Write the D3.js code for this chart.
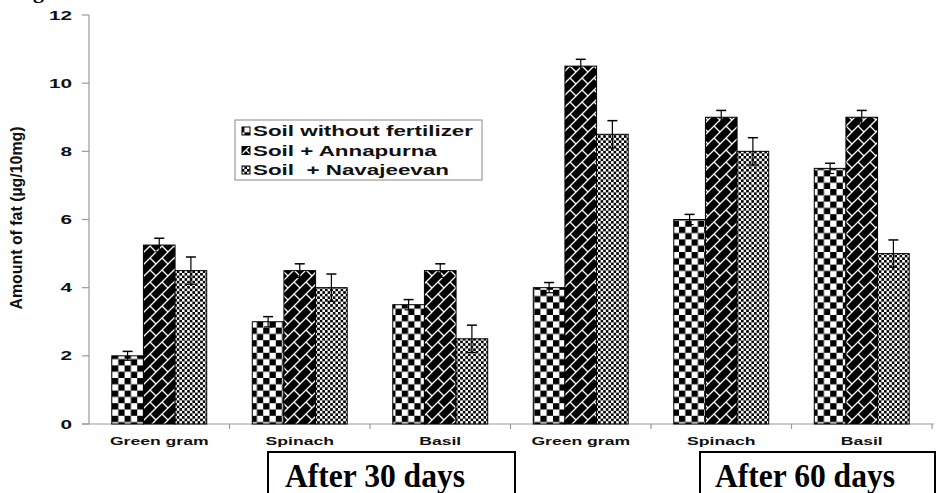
<!DOCTYPE html>
<html>
<head>
<meta charset="utf-8">
<script src="https://cdn.jsdelivr.net/npm/d3@7"></script>
<style>
  html, body { margin: 0; padding: 0; background: #fff; }
  svg { display: block; }
</style>
</head>
<body>
<svg id="chart" width="936" height="493"></svg>
<script>
// ---- data ----
const categories = ["Green gram", "Spinach", "Basil", "Green gram", "Spinach", "Basil"];
const seriesNames = ["Soil without fertilizer", "Soil + Annapurna", "Soil  + Navajeevan"];
const withoutFertilizer = [2, 3, 3.5, 4, 6, 7.5];
const annapurna = [5.25, 4.5, 4.5, 10.5, 9, 9];
const navajeevan = [4.5, 4, 2.5, 8.5, 8, 5];
const errWithout = [0.13, 0.15, 0.15, 0.15, 0.15, 0.15];
const errAnnapurna = [0.2, 0.2, 0.2, 0.2, 0.2, 0.2];
const errNavajeevan = [0.4, 0.4, 0.4, 0.4, 0.4, 0.4];
const yTicks = [0, 2, 4, 6, 8, 10, 12];
const periodLabels = ["After 30 days", "After 60 days"];
const yLabel = "Amount of fat (\u00b5g/10mg)";

const seriesValues = [withoutFertilizer, annapurna, navajeevan];
const seriesErrors = [errWithout, errAnnapurna, errNavajeevan];

const svg = d3.select("#chart");
const SX = 1.6; // horizontal stretch of the original picture's text
const ARIAL = "Arial, 'Liberation Sans', Helvetica, sans-serif";

// ---- patterns ----
const defs = svg.append("defs");
// big checker
const p1 = defs.append("pattern").attr("id", "pat0").attr("patternUnits", "userSpaceOnUse")
  .attr("width", 12.6).attr("height", 12.6).attr("x", 112).attr("y", 0);
p1.append("rect").attr("width", 12.6).attr("height", 12.6).attr("fill", "#fff");
p1.append("rect").attr("width", 6.3).attr("height", 6.3).attr("fill", "#000");
p1.append("rect").attr("x", 6.3).attr("y", 6.3).attr("width", 6.3).attr("height", 6.3).attr("fill", "#000");
// inverted diagonal brick
const p2 = defs.append("pattern").attr("id", "pat1").attr("patternUnits", "userSpaceOnUse")
  .attr("width", 12).attr("height", 12);
p2.append("rect").attr("width", 12).attr("height", 12).attr("fill", "#000");
p2.append("path").attr("d", "M0,12 L12,0 M6,6 L12,12 M-1,1 L1,-1 M11,13 L13,11")
  .attr("stroke", "#fff").attr("stroke-width", 1.3).attr("fill", "none");
// small checker
const p3 = defs.append("pattern").attr("id", "pat2").attr("patternUnits", "userSpaceOnUse")
  .attr("width", 5.2).attr("height", 5.2);
p3.append("rect").attr("width", 5.2).attr("height", 5.2).attr("fill", "#fff");
p3.append("rect").attr("width", 2.6).attr("height", 2.6).attr("fill", "#000");
p3.append("rect").attr("x", 2.6).attr("y", 2.6).attr("width", 2.6).attr("height", 2.6).attr("fill", "#000");

// ---- scales ----
const x = d3.scaleBand().domain(d3.range(categories.length)).range([89, 932]).paddingInner(0).paddingOuter(0);
const xs = d3.scaleBand().domain(d3.range(seriesNames.length)).range([0, x.bandwidth()]).paddingInner(0).paddingOuter(0.72);
const y = d3.scaleLinear().domain([0, 12]).range([424, 15]);

// ---- axes ----
const axisColor = "#999";
// y axis
const yAxis = svg.append("g");
yAxis.append("line").attr("x1", 89).attr("x2", 89).attr("y1", y(12)).attr("y2", y(0)).attr("stroke", axisColor).attr("stroke-width", 1.2);
yTicks.forEach(t => {
  yAxis.append("line").attr("x1", 82).attr("x2", 89).attr("y1", y(t)).attr("y2", y(t)).attr("stroke", axisColor).attr("stroke-width", 1.2);
  yAxis.append("text").attr("transform", `translate(72,${y(t) + 4.5}) scale(${SX},1)`)
    .attr("text-anchor", "end").attr("font-family", ARIAL).attr("font-weight", "bold").attr("font-size", 13)
    .attr("fill", "#111").text(t);
});
// x axis
const xAxis = svg.append("g");
xAxis.append("line").attr("x1", 82).attr("x2", 934).attr("y1", y(0)).attr("y2", y(0)).attr("stroke", axisColor).attr("stroke-width", 1.2);
d3.range(categories.length + 1).forEach(i => {
  const xp = i < categories.length ? x(i) : x(categories.length - 1) + x.bandwidth();
  if (i > 0) xAxis.append("line").attr("x1", xp).attr("x2", xp).attr("y1", y(0)).attr("y2", y(0) + 5).attr("stroke", axisColor).attr("stroke-width", 1.2);
});
categories.forEach((c, i) => {
  xAxis.append("text").attr("transform", `translate(${x(i) + x.bandwidth() / 2},${y(0) + 21}) scale(${SX},1)`)
    .attr("text-anchor", "middle").attr("font-family", ARIAL).attr("font-weight", "bold").attr("font-size", 11)
    .attr("fill", "#111").text(c);
});

// y label
svg.append("text").attr("transform", "translate(22,218) rotate(-90) scale(1,1.4)")
  .attr("text-anchor", "middle").attr("font-family", ARIAL).attr("font-weight", "bold").attr("font-size", 11.5)
  .attr("textLength", 183).attr("lengthAdjust", "spacingAndGlyphs")
  .attr("fill", "#111").text(yLabel);

// ---- bars ----
const barsG = svg.append("g");
seriesValues.forEach((vals, s) => {
  vals.forEach((v, i) => {
    barsG.append("rect")
      .attr("x", x(i) + xs(s)).attr("y", y(v))
      .attr("width", xs.bandwidth()).attr("height", y(0) - y(v))
      .attr("fill", `url(#pat${s})`).attr("stroke", "#000").attr("stroke-width", 1);
  });
});
// error bars
const errG = svg.append("g");
seriesValues.forEach((vals, s) => {
  vals.forEach((v, i) => {
    const e = seriesErrors[s][i];
    const cx = x(i) + xs(s) + xs.bandwidth() / 2;
    errG.append("line").attr("x1", cx).attr("x2", cx).attr("y1", y(v + e)).attr("y2", y(v - e)).attr("stroke", "#000").attr("stroke-width", 1.2);
    errG.append("line").attr("x1", cx - 5).attr("x2", cx + 5).attr("y1", y(v + e)).attr("y2", y(v + e)).attr("stroke", "#000").attr("stroke-width", 1.5);
    errG.append("line").attr("x1", cx - 4).attr("x2", cx + 4).attr("y1", y(v - e)).attr("y2", y(v - e)).attr("stroke", "#000").attr("stroke-width", 1.2);
  });
});

// ---- legend ----
const lg = svg.append("g");
lg.append("rect").attr("x", 235).attr("y", 120).attr("width", 247).attr("height", 60)
  .attr("fill", "#fff").attr("stroke", "#888").attr("stroke-width", 1);
seriesNames.forEach((name, s) => {
  const cy = 131 + s * 19.5;
  lg.append("rect").attr("x", 242).attr("y", cy - 4).attr("width", 8).attr("height", 8)
    .attr("fill", `url(#pat${s})`).attr("stroke", "#000").attr("stroke-width", 1);
  lg.append("text").attr("transform", `translate(253,${cy + 5}) scale(${SX},1)`)
    .attr("font-family", ARIAL).attr("font-weight", "bold").attr("font-size", 14)
    .attr("fill", "#111").attr("xml:space", "preserve").style("white-space", "pre").text(name);
});

// ---- period boxes ----
const boxes = [{ x1: 268, x2: 515, tx: 285 }, { x1: 700, x2: 935, tx: 715 }];
boxes.forEach((b, k) => {
  svg.append("path").attr("d", `M${b.x1},500 L${b.x1},452 L${b.x2},452 L${b.x2},500`)
    .attr("fill", "none").attr("stroke", "#000").attr("stroke-width", 2);
  svg.append("text").attr("x", b.tx).attr("y", 487)
    .attr("font-family", "'Times New Roman', 'Liberation Serif', serif").attr("font-weight", "bold")
    .attr("font-size", 33).attr("textLength", 180).attr("lengthAdjust", "spacingAndGlyphs")
    .attr("fill", "#000").text(periodLabels[k]);
});

// cut-off caption fragment at top-left
svg.append("text").attr("x", 33).attr("y", -2)
  .attr("font-family", "'Times New Roman', 'Liberation Serif', serif").attr("font-weight", "bold")
  .attr("font-size", 22).attr("fill", "#000").text("g");
</script>
</body>
</html>
